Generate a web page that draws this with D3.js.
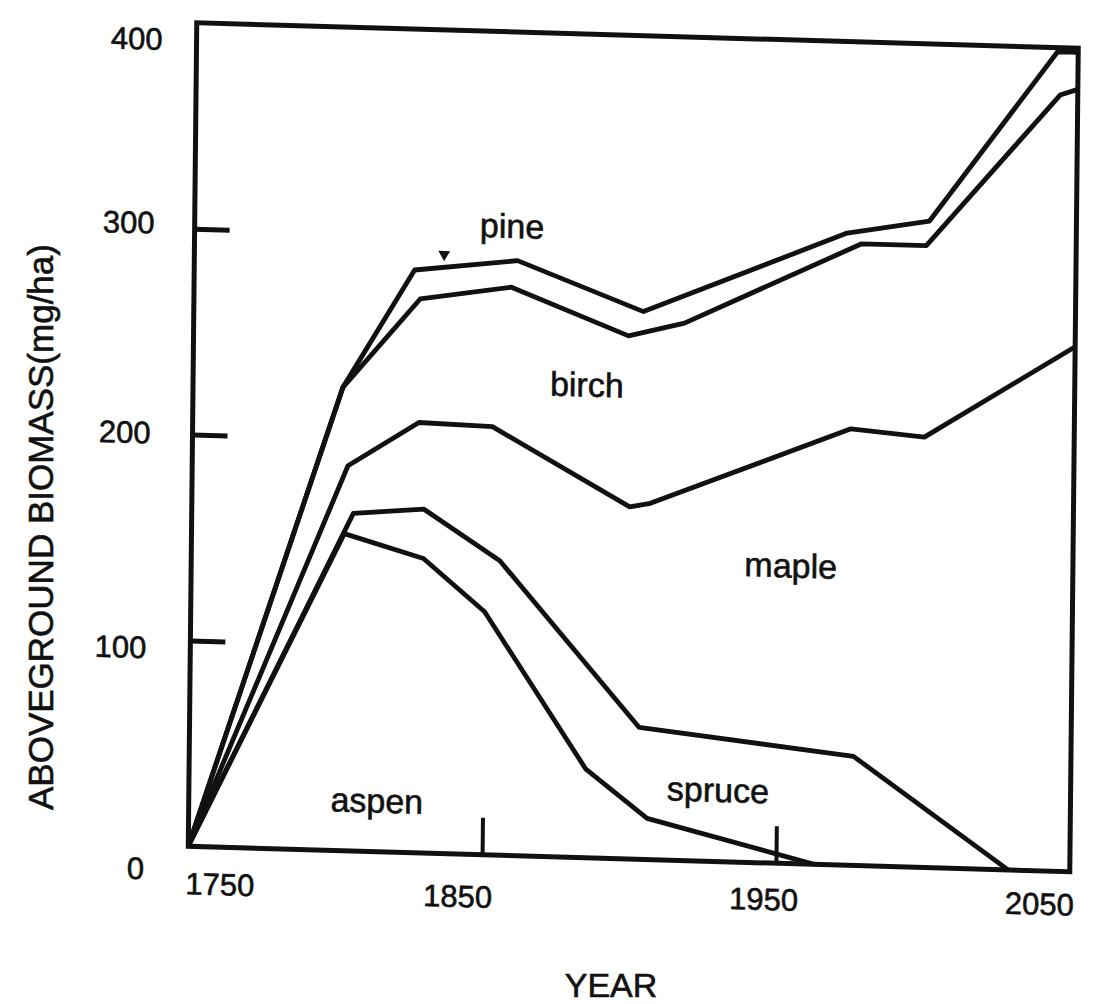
<!DOCTYPE html>
<html>
<head>
<meta charset="utf-8">
<script src="https://cdnjs.cloudflare.com/ajax/libs/d3/7.8.5/d3.min.js"></script>
<style>
  body { margin: 0; background: #fff; }
  svg { display: block; }
  text { font-family: "Liberation Sans", Arial, Helvetica, sans-serif; fill: #111; stroke: #111; stroke-width: 0.6px; }
</style>
</head>
<body>
<div id="vis"></div>
<script>

// Cumulative (stacked) aboveground biomass, [year, Mg/ha].
// Each array is the upper edge of one species band.
var aspenTop  = [[1750, 0], [1802, 154], [1829, 143], [1850, 118], [1885, 43], [1906, 20], [1963, 0]];
var spruceTop = [[1750, 0], [1805, 164], [1829, 167], [1855, 143], [1903, 64], [1976, 53], [2029, 0]];
var mapleTop  = [[1750, 0], [1803, 187], [1827, 209], [1852, 208], [1899, 171], [1906, 173], [1974, 212], [1999, 209], [2050, 255]];
var birchTop  = [[1750, 0], [1801, 225], [1827, 269], [1858, 276], [1898, 254], [1917, 261], [1977, 302], [1999, 302], [2044, 377], [2050, 380]];
var pineTop   = [[1750, 0], [1801, 225], [1825, 283], [1860, 289], [1903, 266], [1972, 307], [2000, 314], [2043, 398], [2050, 398]];

var speciesNames = ['aspen', 'spruce', 'maple', 'birch', 'pine'];

var yearTicks = [1750, 1850, 1950, 2050];
var biomassTicks = [0, 100, 200, 300, 400];
var innerYearTicks = [1850, 1950];
var innerBiomassTicks = [100, 200, 300];

// small mark sitting on the pine line
var pineMark = [1835, 291];

// --- layout (not data) ---
var width = 1106;
var height = 1004;
var plotW = 881.5;
var plotH = 823.5;
// the original is a slightly skewed scan, so the whole frame gets a small shear
var frameTransform = 'matrix(1,0.0289,-0.0103,1,196.75,22.75)';

// where each species name sits, in [year, biomass] space
var labelSpots = [[1814, 19], [1930, 29], [1954, 139], [1884, 224], [1858, 300]];
// tick label nudges, picked to sit where the printed ones do
var xLabelNudge = [[32, 48], [-24, 53], [-12, 47], [-30, 44]];
var yLabelNudge = [[-44, 23], [-44, 8], [-42, -1], [-40, -5], [-34, 17]];

var ink = '#111';

var svg = d3.select('#vis')
  .append('svg')
  .attr('width', width)
  .attr('height', height);

var x = d3.scaleLinear().domain([1750, 2050]).range([0, plotW]);
var y = d3.scaleLinear().domain([0, 400]).range([plotH, 0]);

var plot = svg.append('g').attr('transform', frameTransform);

var line = d3.line()
  .x(function (d) { return x(d[0]); })
  .y(function (d) { return y(d[1]); });

// band edges
plot.selectAll('.edge')
  .data([aspenTop, spruceTop, mapleTop, birchTop, pineTop])
  .enter().append('path')
  .attr('class', 'edge')
  .attr('d', line)
  .attr('fill', 'none')
  .attr('stroke', ink)
  .attr('stroke-width', 4.8)
  .attr('stroke-linejoin', 'round');

// frame
plot.append('rect')
  .attr('x', x(1750))
  .attr('y', y(400))
  .attr('width', x(2050) - x(1750))
  .attr('height', y(0) - y(400))
  .attr('fill', 'none')
  .attr('stroke', ink)
  .attr('stroke-width', 5);

// inward ticks, no domain line (the frame does that)
var yAxis = plot.append('g')
  .call(d3.axisLeft(y).tickValues(innerBiomassTicks).tickSize(-35).tickFormat(''));
yAxis.select('.domain').remove();
yAxis.selectAll('line').attr('stroke', ink).attr('stroke-width', 5);

var xAxis = plot.append('g')
  .attr('transform', 'translate(0,' + plotH + ')')
  .call(d3.axisBottom(x).tickValues(innerYearTicks).tickSize(-37).tickFormat(''));
xAxis.select('.domain').remove();
xAxis.selectAll('line').attr('stroke', ink).attr('stroke-width', 4);

// tick labels
plot.selectAll('.xLabel')
  .data(yearTicks)
  .enter().append('text')
  .attr('class', 'xLabel')
  .attr('x', function (d, i) { return x(d) + xLabelNudge[i][0]; })
  .attr('y', function (d, i) { return plotH + xLabelNudge[i][1]; })
  .attr('text-anchor', 'middle')
  .style('font-size', '31px')
  .text(function (d) { return d; });

plot.selectAll('.yLabel')
  .data(biomassTicks)
  .enter().append('text')
  .attr('class', 'yLabel')
  .attr('x', function (d, i) { return yLabelNudge[i][0]; })
  .attr('y', function (d, i) { return y(d) + yLabelNudge[i][1]; })
  .attr('dy', '0.36em')
  .attr('text-anchor', 'end')
  .style('font-size', '31px')
  .text(function (d) { return d; });

// species names inside their bands
plot.selectAll('.species')
  .data(speciesNames)
  .enter().append('text')
  .attr('class', 'species')
  .attr('x', function (d, i) { return x(labelSpots[i][0]); })
  .attr('y', function (d, i) { return y(labelSpots[i][1]); })
  .attr('text-anchor', 'middle')
  .style('font-size', '34px')
  .text(function (d) { return d; });

plot.append('path')
  .attr('d', d3.symbol().type(d3.symbolTriangle).size(60))
  .attr('transform', 'translate(' + x(pineMark[0]) + ',' + y(pineMark[1]) + ') rotate(180)')
  .attr('fill', ink);

// axis titles
svg.append('text')
  .attr('transform', 'translate(53,810) rotate(-90)')
  .attr('text-anchor', 'start')
  .style('font-size', '35px')
  .text('ABOVEGROUND BIOMASS(mg/ha)');

svg.append('text')
  .attr('x', 611)
  .attr('y', 997)
  .attr('text-anchor', 'middle')
  .style('font-size', '34px')
  .text('YEAR');

</script>
</body>
</html>
